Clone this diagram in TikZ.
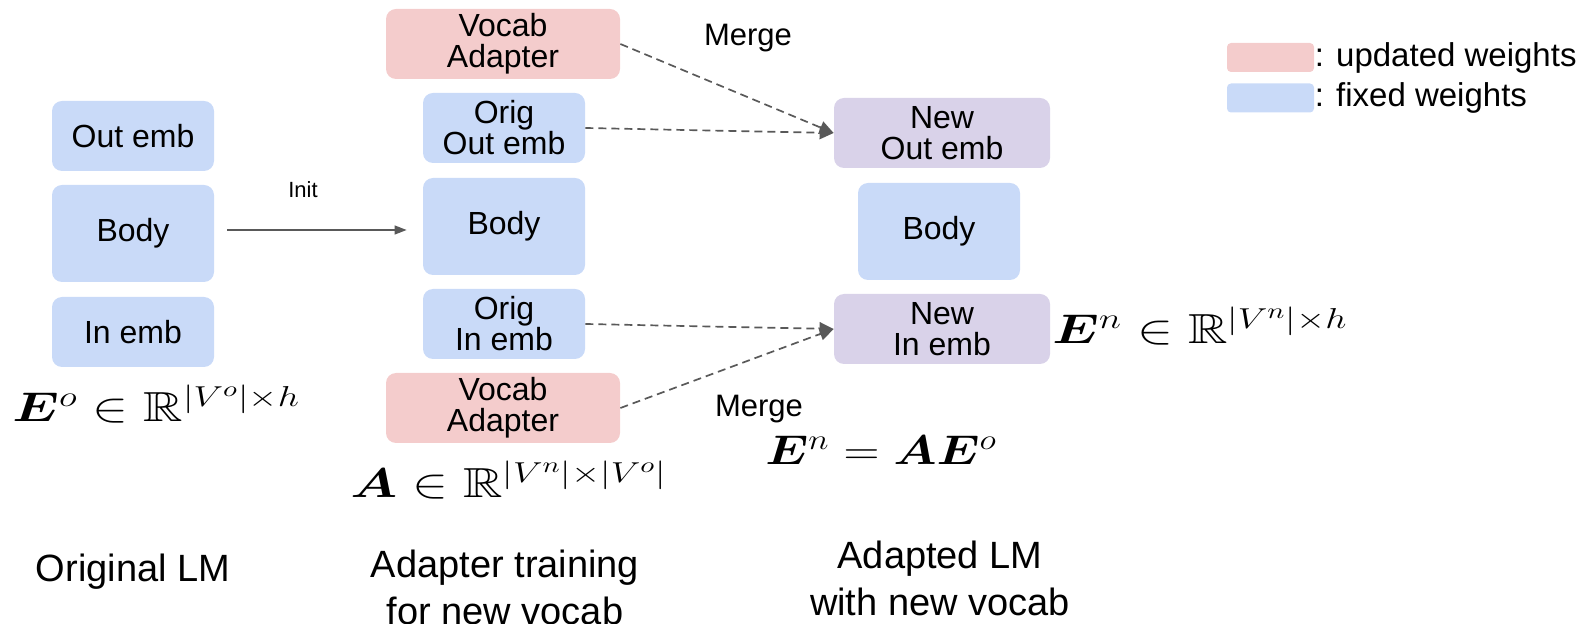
\documentclass[tikz,border=0pt]{standalone}
\usepackage{amsmath,amssymb,bm}
\usepackage{fontspec}
\setmainfont{Liberation Sans}
\usetikzlibrary{arrows.meta}

\definecolor{fixedblue}{HTML}{C9DAF8}
\definecolor{updred}{HTML}{F4CCCC}
\definecolor{newpurple}{HTML}{D9D2E9}
\definecolor{arrowgray}{HTML}{595959}

% wide-set formula
\newcommand{\wideformula}[2][1.3]{\scalebox{#1}[1]{$#2$}}

\begin{document}
\begin{tikzpicture}[x=0.5pt,y=-0.5pt,
  blk/.style={rounded corners=5pt, inner sep=0pt, align=center,
    font=\fontsize{16}{15.5}\selectfont, minimum width=81pt, minimum height=35pt},
  fixedblk/.style={blk, fill=fixedblue},
  updblk/.style={blk, fill=updred, minimum width=117pt},
  newblk/.style={blk, fill=newpurple, minimum width=108pt},
  bodyblk/.style={fixedblk, minimum height=48.5pt},
  mergearrow/.style={draw=arrowgray, line width=0.85pt, dash pattern=on 4pt off 2.5pt,
    -{Triangle[length=7pt,width=6.5pt]}},
  initarrow/.style={draw=arrowgray, line width=0.65pt, -{Triangle[length=6pt,width=4.5pt]}},
  lbl/.style={inner sep=0pt, font=\fontsize{15.5}{18}\selectfont},
  caption/.style={inner sep=0pt, align=center, font=\fontsize{19}{23.5}\selectfont},
  mathlbl/.style={inner sep=0pt, anchor=base west, font=\fontsize{21}{25}\selectfont},
  swatch/.style={rounded corners=2pt, inner sep=0pt, minimum width=43.5pt, minimum height=14.5pt},
  legtext/.style={inner sep=0pt, anchor=west, font=\fontsize{16.5}{18}\selectfont}
]
\useasboundingbox (0,0) rectangle (1589,624);

% Original LM
\node[fixedblk] (outL)  at (133,136)   {Out emb};
\node[bodyblk]  (bodyL) at (133,233.5) {Body};
\node[fixedblk] (inL)   at (133,332)   {In emb};

% Adapter training
\node[updblk]   (vocT)    at (503,44)    {Vocab\\Adapter};
\node[fixedblk] (origOut) at (504,128)   {Orig\\Out emb};
\node[bodyblk]  (bodyM)   at (504,226.5) {Body};
\node[fixedblk] (origIn)  at (504,324)   {Orig\\In emb};
\node[updblk]   (vocB)    at (503,408)   {Vocab\\Adapter};

% Adapted LM
\node[newblk]   (newOut) at (942,133)   {New\\Out emb};
\node[bodyblk]  (bodyR)  at (939,231.5) {Body};
\node[newblk]   (newIn)  at (942,329)   {New\\In emb};

% Connectors
\coordinate (initS) at ([xshift=6.5pt,yshift=1.75pt]bodyL.east);
\coordinate (initE) at ([xshift=-8pt,yshift=-1.75pt]bodyM.west);
\draw[initarrow] (initS) -- (initS -| initE);
\node[lbl, font=\fontsize{11}{13}\selectfont] (init) at (303,190) {Init};

\draw[mergearrow] (vocT.east) -- (newOut.west);
\draw[mergearrow] (origOut.east) -- (newOut.west);
\draw[mergearrow] (origIn.east) -- (newIn.west);
\draw[mergearrow] (vocB.east) -- (newIn.west);

\node[lbl] (mergeT) at (748,38)  {Merge};
\node[lbl] (mergeB) at (759,409) {Merge};

% Formulas
\node[mathlbl] (eo) at (12,422)   {\wideformula{\bm{E}^o \in \mathbb{R}^{|V^o|\times h}}};
\node[mathlbl] (aa) at (350,498)  {\wideformula{\bm{A} \in \mathbb{R}^{|V^n|\times|V^o|}}};
\node[mathlbl] (en) at (1052,344) {\wideformula{\bm{E}^n \in \mathbb{R}^{|V^n|\times h}}};
\node[mathlbl] (eq) at (765,465)  {\wideformula[1.2]{\bm{E}^n = \bm{A}\bm{E}^o}};

% Captions
\node[caption] (capL) at (133,572) {Original LM};
\node[caption] (capM) at (505,587) {Adapter training\\for new vocab};
\node[caption] (capR) at (940,578) {Adapted LM\\with new vocab};

% Legend
\node[swatch, fill=updred]    (legU) at (1270.5,57.5) {};
\node[legtext] at (legU.east) {: updated weights};
\node[swatch, fill=fixedblue] (legF) at (1270.5,98)   {};
\node[legtext] at (legF.east) {: fixed weights};
\end{tikzpicture}
\end{document}
